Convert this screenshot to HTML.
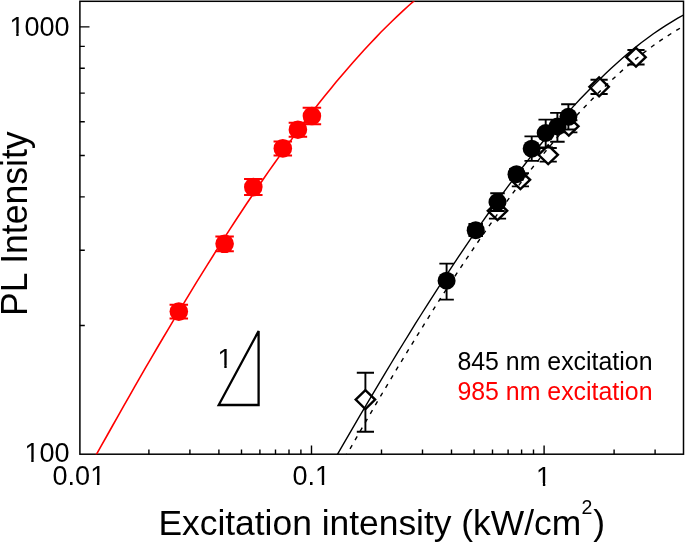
<!DOCTYPE html>
<html><head><meta charset="utf-8"><title>PL Intensity vs Excitation intensity</title>
<style>html,body{margin:0;padding:0;background:#fff;}svg{display:block;}text{font-family:"Liberation Sans",sans-serif;}</style>
</head><body>
<svg width="685" height="542" viewBox="0 0 685 542">
<rect x="0" y="0" width="685" height="542" fill="#fff"/>
<rect x="79.9" y="1.3" width="603.6" height="452.9" fill="none" stroke="#000" stroke-width="1.5"/>
<path d="M148.9,454.2 v-4.6 M189.9,454.2 v-4.6 M218.9,454.2 v-4.6 M241.5,454.2 v-4.6 M259.9,454.2 v-4.6 M275.5,454.2 v-4.6 M289.0,454.2 v-4.6 M300.9,454.2 v-4.6 M311.5,454.2 v-8.8 M381.5,454.2 v-4.6 M422.5,454.2 v-4.6 M451.5,454.2 v-4.6 M474.1,454.2 v-4.6 M492.5,454.2 v-4.6 M508.1,454.2 v-4.6 M521.6,454.2 v-4.6 M533.5,454.2 v-4.6 M544.1,454.2 v-8.8 M614.1,454.2 v-4.6 M655.1,454.2 v-4.6 M79.9,325.5 h4.9 M79.9,250.3 h4.9 M79.9,196.9 h4.9 M79.9,155.5 h4.9 M79.9,121.7 h4.9 M79.9,93.1 h4.9 M79.9,68.3 h4.9 M79.9,46.4 h4.9 M79.9,26.9 h9.6" stroke="#000" stroke-width="1.4" fill="none"/>
<g font-size="27" fill="#000">
<text x="69.5" y="35.7" text-anchor="end">1000</text>
<text x="69.5" y="462.3" text-anchor="end">100</text>
<text x="52.6" y="485.2">0.01</text>
<text x="292.5" y="485.3">0.1</text>
<text x="536.1" y="485.6">1</text>
</g>
<rect x="10.71" y="33.08" width="5.53" height="3.42" fill="#fff"/><rect x="18.63" y="33.08" width="5.32" height="3.42" fill="#fff"/>
<rect x="25.72" y="459.68" width="5.53" height="3.42" fill="#fff"/><rect x="33.64" y="459.68" width="5.32" height="3.42" fill="#fff"/>
<rect x="91.39" y="482.58" width="5.53" height="3.42" fill="#fff"/><rect x="99.31" y="482.58" width="5.32" height="3.42" fill="#fff"/>
<rect x="316.27" y="482.68" width="5.53" height="3.42" fill="#fff"/><rect x="324.19" y="482.68" width="5.32" height="3.42" fill="#fff"/>
<rect x="537.36" y="482.98" width="5.53" height="3.42" fill="#fff"/><rect x="545.28" y="482.98" width="5.32" height="3.42" fill="#fff"/>
<text x="158.4" y="534.5" font-size="35.4" fill="#000">Excitation intensity (kW/cm<tspan font-size="19.5" dy="-20.2" dx="0.3">2</tspan><tspan dy="20.2" dx="0.8">)</tspan></text>
<text transform="translate(26.5,315.9) rotate(-90) scale(0.975,1)" font-size="36.5" fill="#000">PL Intensity</text>
<text x="457.4" y="370.3" font-size="24.9" fill="#000">845 nm excitation</text>
<text x="457.4" y="399.8" font-size="24.9" fill="#ff0000">985 nm excitation</text>
<path d="M218.7,405.0 L258.6,405.0 L258.6,331.0 Z" fill="none" stroke="#000" stroke-width="2.3" stroke-linejoin="miter"/>
<text x="217.5" y="368" font-size="27" fill="#000">1</text>
<rect x="218.76" y="365.38" width="5.53" height="3.42" fill="#fff"/><rect x="226.68" y="365.38" width="5.32" height="3.42" fill="#fff"/>
<path d="M178.8,304.8 V318.40000000000003 M169.55,304.8 h18.5 M169.55,318.40000000000003 h18.5" stroke="#ff0000" stroke-width="2.0" fill="none"/>
<circle cx="178.8" cy="311.6" r="9.3" fill="#ff0000"/>
<path d="M224.6,236.4 V251.20000000000002 M215.35,236.4 h18.5 M215.35,251.20000000000002 h18.5" stroke="#ff0000" stroke-width="2.0" fill="none"/>
<circle cx="224.6" cy="243.8" r="9.3" fill="#ff0000"/>
<path d="M253.3,179.1 V195.1 M244.05,179.1 h18.5 M244.05,195.1 h18.5" stroke="#ff0000" stroke-width="2.0" fill="none"/>
<circle cx="253.3" cy="187.1" r="9.3" fill="#ff0000"/>
<path d="M282.8,141.4 V155.4 M273.55,141.4 h18.5 M273.55,155.4 h18.5" stroke="#ff0000" stroke-width="2.0" fill="none"/>
<circle cx="282.8" cy="148.4" r="9.3" fill="#ff0000"/>
<path d="M297.9,122.69999999999999 V136.7 M288.65,122.69999999999999 h18.5 M288.65,136.7 h18.5" stroke="#ff0000" stroke-width="2.0" fill="none"/>
<circle cx="297.9" cy="129.7" r="9.3" fill="#ff0000"/>
<path d="M311.9,107.7 V124.3 M302.65,107.7 h18.5 M302.65,124.3 h18.5" stroke="#ff0000" stroke-width="2.0" fill="none"/>
<circle cx="311.9" cy="116" r="9.3" fill="#ff0000"/>
<path d="M365.4,372.7 V431.7 M356.79999999999995,372.7 h17.2 M356.79999999999995,431.7 h17.2" stroke="#000" stroke-width="1.9" fill="none"/>
<path d="M355.7,399.6 L365.4,390.20000000000005 L375.09999999999997,399.6 L365.4,409.0 Z" fill="#fff" stroke="#000" stroke-width="2.4"/>
<path d="M497.5,203 V218.6 M488.9,203 h17.2 M488.9,218.6 h17.2" stroke="#000" stroke-width="1.9" fill="none"/>
<path d="M487.8,210.8 L497.5,201.4 L507.2,210.8 L497.5,220.20000000000002 Z" fill="#fff" stroke="#000" stroke-width="2.4"/>
<path d="M520.4,173.2 V186.4 M511.79999999999995,173.2 h17.2 M511.79999999999995,186.4 h17.2" stroke="#000" stroke-width="1.9" fill="none"/>
<path d="M510.7,179.8 L520.4,170.4 L530.1,179.8 L520.4,189.20000000000002 Z" fill="#fff" stroke="#000" stroke-width="2.4"/>
<path d="M548.2,148 V161.6 M539.6,148 h17.2 M539.6,161.6 h17.2" stroke="#000" stroke-width="1.9" fill="none"/>
<path d="M538.5,154.8 L548.2,145.4 L557.9000000000001,154.8 L548.2,164.20000000000002 Z" fill="#fff" stroke="#000" stroke-width="2.4"/>
<path d="M568.8,120.2 V132.4 M560.1999999999999,120.2 h17.2 M560.1999999999999,132.4 h17.2" stroke="#000" stroke-width="1.9" fill="none"/>
<path d="M559.0999999999999,126.3 L568.8,116.89999999999999 L578.5,126.3 L568.8,135.7 Z" fill="#fff" stroke="#000" stroke-width="2.4"/>
<path d="M599.1,79.8 V94.0 M590.5,79.8 h17.2 M590.5,94.0 h17.2" stroke="#000" stroke-width="1.9" fill="none"/>
<path d="M589.4,86.85 L599.1,77.44999999999999 L608.8000000000001,86.85 L599.1,96.25 Z" fill="#fff" stroke="#000" stroke-width="2.4"/>
<path d="M636,50 V64.5 M627.4,50 h17.2 M627.4,64.5 h17.2" stroke="#000" stroke-width="1.9" fill="none"/>
<path d="M626.3,57.2 L636,47.800000000000004 L645.7,57.2 L636,66.60000000000001 Z" fill="#fff" stroke="#000" stroke-width="2.4"/>
<path d="M446.6,263.6 V299.6 M439.35,263.6 h14.5 M439.35,299.6 h14.5" stroke="#000" stroke-width="1.9" fill="none"/>
<circle cx="446.6" cy="280.7" r="9.0" fill="#000"/>
<path d="M475.7,224 V236 M468.45,224 h14.5 M468.45,236 h14.5" stroke="#000" stroke-width="1.9" fill="none"/>
<circle cx="475.7" cy="230.2" r="9.0" fill="#000"/>
<path d="M497.5,193.2 V211 M490.25,193.2 h14.5 M490.25,211 h14.5" stroke="#000" stroke-width="1.9" fill="none"/>
<circle cx="497.5" cy="202.1" r="9.0" fill="#000"/>
<path d="M516.5,169 V179.5 M509.25,169 h14.5 M509.25,179.5 h14.5" stroke="#000" stroke-width="1.9" fill="none"/>
<circle cx="516.5" cy="174.2" r="9.0" fill="#000"/>
<path d="M531.7,136.4 V160.9 M524.45,136.4 h14.5 M524.45,160.9 h14.5" stroke="#000" stroke-width="1.9" fill="none"/>
<circle cx="531.7" cy="148.7" r="9.0" fill="#000"/>
<path d="M545.7,119.6 V147.5 M538.45,119.6 h14.5 M538.45,147.5 h14.5" stroke="#000" stroke-width="1.9" fill="none"/>
<circle cx="545.7" cy="133" r="9.0" fill="#000"/>
<path d="M557.4,112.9 V141.7 M550.15,112.9 h14.5 M550.15,141.7 h14.5" stroke="#000" stroke-width="1.9" fill="none"/>
<circle cx="557.4" cy="126.5" r="9.0" fill="#000"/>
<path d="M568.4,104.3 V129.5 M561.15,104.3 h14.5 M561.15,129.5 h14.5" stroke="#000" stroke-width="1.9" fill="none"/>
<circle cx="568.4" cy="116.8" r="9.0" fill="#000"/>
<clipPath id="clip"><rect x="79.9" y="1.3" width="603.6" height="452.9"/></clipPath>
<g clip-path="url(#clip)" fill="none">
<path d="M90.0,466.0 L95.6,455.9 L101.2,445.9 L106.8,436.0 L112.4,426.0 L118.0,416.1 L123.6,406.2 L129.2,396.4 L134.7,386.6 L140.3,376.9 L145.9,367.2 L151.5,357.6 L157.1,348.0 L162.7,338.5 L168.3,329.1 L173.9,319.7 L179.5,310.3 L185.1,301.1 L190.7,291.8 L196.3,282.7 L201.9,273.6 L207.5,264.6 L213.1,255.7 L218.6,246.9 L224.2,238.1 L229.8,229.4 L235.4,220.8 L241.0,212.2 L246.6,203.8 L252.2,195.5 L257.8,187.2 L263.4,179.0 L269.0,170.9 L274.6,163.0 L280.2,155.1 L285.8,147.3 L291.4,139.6 L296.9,132.0 L302.5,124.6 L308.1,117.2 L313.7,110.0 L319.3,102.8 L324.9,95.8 L330.5,88.9 L336.1,82.1 L341.7,75.4 L347.3,68.9 L352.9,62.5 L358.5,56.2 L364.1,50.0 L369.7,44.0 L375.3,38.1 L380.8,32.3 L386.4,26.7 L392.0,21.2 L397.6,15.8 L403.2,10.6 L408.8,5.5 L414.4,0.6 L420.0,-4.2" stroke="#ff0000" stroke-width="1.6"/>
<path d="M330.0,467.3 L336.1,456.7 L342.2,446.1 L348.3,435.6 L354.4,425.1 L360.5,414.7 L366.6,404.4 L372.7,394.1 L378.8,383.8 L384.9,373.6 L391.0,363.5 L397.1,353.4 L403.2,343.5 L409.3,333.6 L415.4,323.7 L421.5,314.0 L427.6,304.3 L433.7,294.8 L439.8,285.3 L445.9,275.9 L452.0,266.6 L458.1,257.4 L464.2,248.3 L470.3,239.3 L476.4,230.5 L482.5,221.7 L488.6,213.0 L494.7,204.5 L500.8,196.1 L506.9,187.8 L513.1,179.6 L519.2,171.6 L525.3,163.7 L531.4,155.9 L537.5,148.3 L543.6,140.8 L549.7,133.5 L555.8,126.3 L561.9,119.3 L568.0,112.4 L574.1,105.6 L580.2,99.1 L586.3,92.7 L592.4,86.4 L598.5,80.4 L604.6,74.5 L610.7,68.7 L616.8,63.2 L622.9,57.8 L629.0,52.6 L635.1,47.6 L641.2,42.8 L647.3,38.2 L653.4,33.8 L659.5,29.6 L665.6,25.6 L671.7,21.8 L677.8,18.2 L683.9,14.8 L690.0,11.7" stroke="#000" stroke-width="1.4"/>
<path d="M340.0,466.4 L345.9,456.0 L351.9,445.6 L357.8,435.3 L363.7,425.1 L369.7,414.9 L375.6,404.7 L381.5,394.6 L387.5,384.6 L393.4,374.7 L399.3,364.8 L405.3,355.0 L411.2,345.3 L417.1,335.7 L423.1,326.1 L429.0,316.6 L434.9,307.2 L440.8,297.9 L446.8,288.7 L452.7,279.6 L458.6,270.6 L464.6,261.7 L470.5,252.9 L476.4,244.2 L482.4,235.6 L488.3,227.1 L494.2,218.7 L500.2,210.5 L506.1,202.3 L512.0,194.3 L518.0,186.4 L523.9,178.7 L529.8,171.0 L535.8,163.5 L541.7,156.1 L547.6,148.9 L553.6,141.8 L559.5,134.8 L565.4,128.0 L571.4,121.3 L577.3,114.8 L583.2,108.5 L589.2,102.2 L595.1,96.2 L601.0,90.3 L606.9,84.6 L612.9,79.0 L618.8,73.6 L624.7,68.3 L630.7,63.3 L636.6,58.4 L642.5,53.7 L648.5,49.1 L654.4,44.8 L660.3,40.6 L666.3,36.7 L672.2,32.9 L678.1,29.3 L684.1,25.9 L690.0,22.7" stroke="#000" stroke-width="1.4" stroke-dasharray="4.3,5.8"/>
</g>
</svg></body></html>
